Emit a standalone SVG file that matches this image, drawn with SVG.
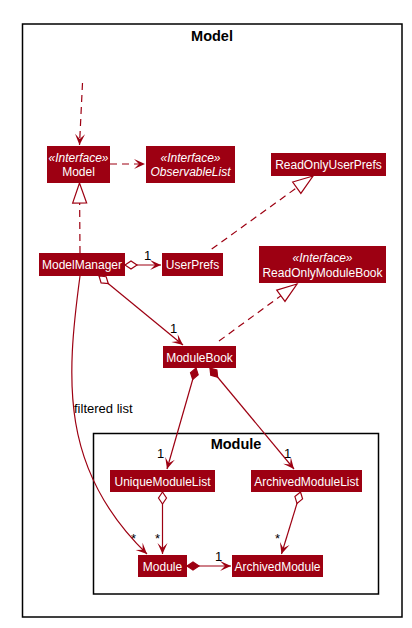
<svg xmlns="http://www.w3.org/2000/svg" width="412" height="628" viewBox="0 0 412 628">
<style>
.frame{fill:none;stroke:#000;stroke-width:1.5}
.ftitle{font-family:"Liberation Sans",Arial,sans-serif;font-weight:bold;font-size:14.5px;fill:#000;text-anchor:middle}
.node rect{fill:#9D0012}
.node text{font-family:"Liberation Sans",Arial,sans-serif;font-size:12px;fill:#fff;text-anchor:middle}
.st{font-style:italic}
.e{fill:none;stroke:#9D0012;stroke-width:1.2}
.d{stroke-dasharray:7,5}
.lbl{font-family:"Liberation Sans",Arial,sans-serif;font-size:13px;fill:#000}
</style>
<defs>
<marker id="arr" markerUnits="userSpaceOnUse" markerWidth="14" markerHeight="12" viewBox="-12 -6 14 12" refX="0" refY="0" orient="auto"><path d="M0,0 L-11,-5 L-6,0 L-11,5 Z" fill="#9D0012"/></marker>
<marker id="tri" markerUnits="userSpaceOnUse" markerWidth="24" markerHeight="18" viewBox="-22 -9 24 18" refX="0" refY="0" orient="auto"><path d="M0,0 L-20,-7 L-20,7 Z" fill="#fff" stroke="#9D0012" stroke-width="1.2"/></marker>
<marker id="odia" markerUnits="userSpaceOnUse" markerWidth="16" markerHeight="12" viewBox="-2 -6 16 12" refX="0" refY="0" orient="auto"><path d="M0,0 L6,-4 L12,0 L6,4 Z" fill="#fff" stroke="#9D0012" stroke-width="1.2"/></marker>
<marker id="fdia" markerUnits="userSpaceOnUse" markerWidth="16" markerHeight="12" viewBox="-2 -6 16 12" refX="0" refY="0" orient="auto"><path d="M0,0 L6,-4 L12,0 L6,4 Z" fill="#9D0012" stroke="#9D0012" stroke-width="1.2"/></marker>
</defs>
<rect class="frame" x="22.5" y="24" width="379.5" height="593"/>
<text class="ftitle" x="212" y="41">Model</text>
<rect class="frame" x="93.5" y="433.5" width="285" height="160.5"/>
<text class="ftitle" x="236" y="449">Module</text>
<g id="connectors">
<path class="e d" d="M82.5,83 L79.5,145" marker-end="url(#arr)"/>
<path class="e d" d="M110,164 L145,164" marker-end="url(#arr)"/>
<path class="e d" d="M80,253 L79.5,183" marker-end="url(#tri)"/>
<path class="e d" d="M211.7,249 L313,176" marker-end="url(#tri)"/>
<path class="e d" d="M219,341 L297,284" marker-end="url(#tri)"/>
<path class="e" d="M125,265 L161,265" marker-start="url(#odia)" marker-end="url(#arr)"/>
<path class="e" d="M99,276 L183,345" marker-start="url(#odia)" marker-end="url(#arr)"/>
<path class="e" d="M80,276 C66,380 60,470 147,554" marker-end="url(#arr)"/>
<path class="e" d="M196,368 L167,469" marker-start="url(#fdia)" marker-end="url(#arr)"/>
<path class="e" d="M210,368 L294,469" marker-start="url(#fdia)" marker-end="url(#arr)"/>
<path class="e" d="M162.5,492 L162.5,554" marker-start="url(#odia)" marker-end="url(#arr)"/>
<path class="e" d="M300.5,492 L281.5,554" marker-start="url(#odia)" marker-end="url(#arr)"/>
<path class="e" d="M187,566 L231,566" marker-start="url(#fdia)" marker-end="url(#arr)"/>
<text class="lbl" x="144" y="260">1</text>
<text class="lbl" x="170" y="333">1</text>
<text class="lbl" x="74" y="413">filtered list</text>
<text class="lbl" x="157" y="458">1</text>
<text class="lbl" x="284" y="458">1</text>
<text class="lbl" x="131" y="543">*</text>
<text class="lbl" x="155" y="543">*</text>
<text class="lbl" x="275" y="543">*</text>
<text class="lbl" x="215" y="561">1</text>
</g>
<g id="Model" class="node"><rect x="47" y="146" width="63" height="37"/><text class="st" x="78.5" y="162">«Interface»</text><text x="78.5" y="176">Model</text></g>
<g id="ObservableList" class="node"><rect x="146" y="146" width="89" height="37"/><text class="st" x="190.5" y="162">«Interface»</text><text class="st" x="190.5" y="176">ObservableList</text></g>
<g id="ReadOnlyUserPrefs" class="node"><rect x="271" y="153" width="115" height="23"/><text x="328.5" y="169">ReadOnlyUserPrefs</text></g>
<g id="ModelManager" class="node"><rect x="39" y="253" width="86" height="23"/><text x="82" y="269">ModelManager</text></g>
<g id="UserPrefs" class="node"><rect x="162" y="253" width="61" height="23"/><text x="192.5" y="269">UserPrefs</text></g>
<g id="ReadOnlyModuleBook" class="node"><rect x="259" y="246" width="127" height="37"/><text class="st" x="322.5" y="262">«Interface»</text><text x="322.5" y="277">ReadOnlyModuleBook</text></g>
<g id="ModuleBook" class="node"><rect x="163" y="346" width="73" height="22"/><text x="199.5" y="361.5">ModuleBook</text></g>
<g id="UniqueModuleList" class="node"><rect x="110" y="470" width="105" height="22"/><text x="162.5" y="485.5">UniqueModuleList</text></g>
<g id="ArchivedModuleList" class="node"><rect x="251" y="470" width="111" height="22"/><text x="306.5" y="485.5">ArchivedModuleList</text></g>
<g id="Module" class="node"><rect x="138" y="555" width="49" height="22"/><text x="162.5" y="570.5">Module</text></g>
<g id="ArchivedModule" class="node"><rect x="232" y="555" width="91" height="22"/><text x="277.5" y="570.5">ArchivedModule</text></g>
</svg>
